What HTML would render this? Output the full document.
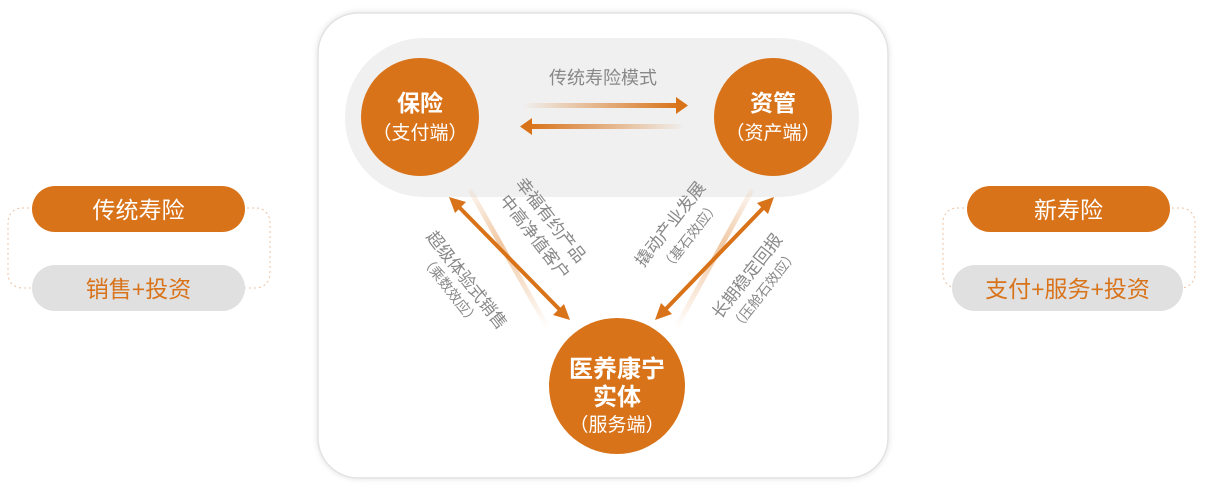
<!DOCTYPE html>
<html><head><meta charset="utf-8"><style>
html,body{margin:0;padding:0;background:#fff;}
svg{display:block;font-family:"Liberation Sans","Noto Sans CJK SC",sans-serif;}
</style></head><body>
<svg width="1211" height="490" viewBox="0 0 1211 490" xmlns="http://www.w3.org/2000/svg">
<defs>
<linearGradient id="gr" x1="0" x2="1" y1="0" y2="0"><stop offset="0" stop-color="#d9731a" stop-opacity="0"/><stop offset="1" stop-color="#d9731a"/></linearGradient>
<linearGradient id="gl" x1="1" x2="0" y1="0" y2="0"><stop offset="0" stop-color="#d9731a" stop-opacity="0"/><stop offset="1" stop-color="#d9731a"/></linearGradient>
<linearGradient id="fa" gradientUnits="userSpaceOnUse" x1="470" y1="190" x2="548" y2="328"><stop offset="0" stop-color="#eab07c" stop-opacity="0.1"/><stop offset="0.4" stop-color="#eab07c" stop-opacity="0.7"/><stop offset="1" stop-color="#eab07c" stop-opacity="0"/></linearGradient>
<linearGradient id="fb" gradientUnits="userSpaceOnUse" x1="752" y1="190" x2="676" y2="328"><stop offset="0" stop-color="#eab07c" stop-opacity="0.1"/><stop offset="0.4" stop-color="#eab07c" stop-opacity="0.7"/><stop offset="1" stop-color="#eab07c" stop-opacity="0"/></linearGradient>
<filter id="sh" x="-10%" y="-10%" width="120%" height="120%"><feDropShadow dx="0" dy="0" stdDeviation="3" flood-color="#000" flood-opacity="0.12"/></filter>
</defs>
<rect x="318" y="13" width="570" height="465" rx="40" fill="#fff" stroke="#e2e2e2" stroke-width="1.5" filter="url(#sh)"/>
<rect x="345" y="38" width="514" height="159" rx="79" fill="#f0f0f0"/>
<text x="603" y="84" font-size="18" fill="#888" text-anchor="middle">传统寿险模式</text>
<rect x="523" y="103" width="155" height="5" fill="url(#gr)"/>
<polygon points="676,97 688,105.5 676,114" fill="#d9731a"/>
<rect x="530" y="124" width="155" height="5" fill="url(#gl)"/>
<polygon points="532,118 520,126.5 532,135" fill="#d9731a"/>
<line x1="470" y1="190" x2="548" y2="328" stroke="url(#fa)" stroke-width="5"/>
<line x1="752" y1="190" x2="676" y2="328" stroke="url(#fb)" stroke-width="5"/>
<line x1="457" y1="205" x2="562" y2="312" stroke="#d9731a" stroke-width="4"/>
<polygon points="449,197 466,202 455,213" fill="#d9731a"/>
<polygon points="570,320 553,315 564,304" fill="#d9731a"/>
<line x1="766" y1="205" x2="663" y2="312" stroke="#d9731a" stroke-width="4"/>
<polygon points="774,197 768,214 757,203" fill="#d9731a"/>
<polygon points="655,320 661,303 672,314" fill="#d9731a"/>
<g font-size="17" fill="#888" text-anchor="middle">
<text transform="translate(467,280) rotate(52)" y="6">超级体验式销售</text>
<text transform="translate(450,290) rotate(52)" y="5" font-size="14">（乘数效应）</text>
<text transform="translate(551,220) rotate(52)" y="6">幸福有约产品</text>
<text transform="translate(535,237) rotate(52)" y="6">中高净值客户</text>
<text transform="translate(670,224) rotate(-52)" y="6">撬动产业发展</text>
<text transform="translate(690,236) rotate(-52)" y="5" font-size="14">（基石效应）</text>
<text transform="translate(747,276) rotate(-52)" y="6">长期稳定回报</text>
<text transform="translate(764,290) rotate(-52)" y="5" font-size="14">（压舱石效应）</text>
</g>
<circle cx="420" cy="117" r="59" fill="#d9731a"/>
<text x="420" y="111" font-size="23" font-weight="bold" fill="#fff" text-anchor="middle">保险</text>
<text x="420" y="139" font-size="19" fill="#fff" text-anchor="middle">（支付端）</text>
<circle cx="773" cy="117" r="59" fill="#d9731a"/>
<text x="773" y="111" font-size="23" font-weight="bold" fill="#fff" text-anchor="middle">资管</text>
<text x="773" y="139" font-size="19" fill="#fff" text-anchor="middle">（资产端）</text>
<circle cx="617" cy="386" r="68" fill="#d9731a"/>
<text x="617" y="377" font-size="24" font-weight="bold" fill="#fff" text-anchor="middle">医养康宁</text>
<text x="617" y="405" font-size="24" font-weight="bold" fill="#fff" text-anchor="middle">实体</text>
<text x="617" y="431" font-size="19" fill="#fff" text-anchor="middle">（服务端）</text>
<rect x="8" y="208" width="262" height="80" rx="14" fill="none" stroke="#eec0a0" stroke-width="1" stroke-dasharray="2,3"/>
<rect x="32" y="186" width="213" height="46" rx="23" fill="#d9731a"/>
<text x="138.5" y="218" font-size="23" fill="#fff" text-anchor="middle">传统寿险</text>
<rect x="32" y="265" width="213" height="46" rx="23" fill="#e0e0e0"/>
<text x="138.5" y="297" font-size="23" fill="#d9731a" text-anchor="middle">销售+投资</text>
<rect x="943" y="208" width="252" height="80" rx="14" fill="none" stroke="#eec0a0" stroke-width="1" stroke-dasharray="2,3"/>
<rect x="967" y="186" width="203" height="46" rx="23" fill="#d9731a"/>
<text x="1068.5" y="218" font-size="23" fill="#fff" text-anchor="middle">新寿险</text>
<rect x="952" y="265" width="231" height="46" rx="23" fill="#e0e0e0"/>
<text x="1067.5" y="297" font-size="23" fill="#d9731a" text-anchor="middle">支付+服务+投资</text>
</svg>
</body></html>
